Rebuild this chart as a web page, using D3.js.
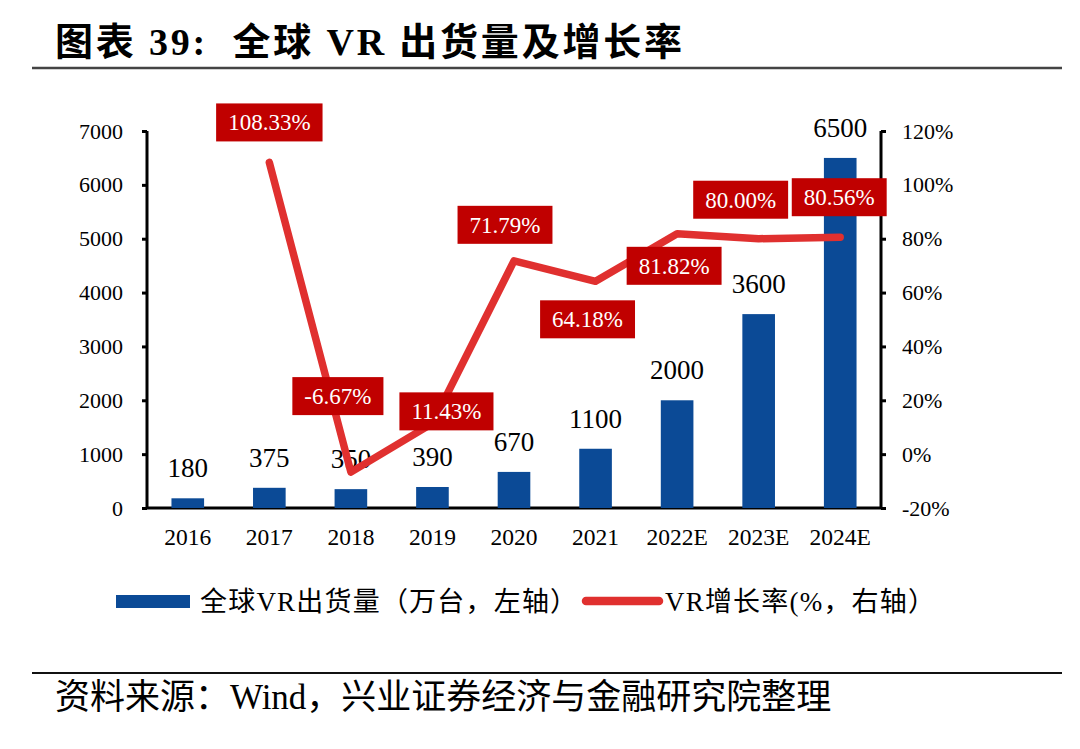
<!DOCTYPE html>
<html lang="zh">
<head>
<meta charset="UTF-8">
<title>全球VR出货量及增长率</title>
<script src="https://d3js.org/d3.v7.min.js"></script>
<style>
  body { margin: 0; background: #fff; }
</style>
</head>
<body>
<svg class="chart"></svg>
<script>
// data
const categories = ['2016', '2017', '2018', '2019', '2020', '2021', '2022E', '2023E', '2024E'];
const shipments = [180, 375, 350, 390, 670, 1100, 2000, 3600, 6500];          // 万台
const growth = [null, 108.33, -6.67, 11.43, 71.79, 64.18, 81.82, 80.00, 80.56]; // %
const leftTicks = [0, 1000, 2000, 3000, 4000, 5000, 6000, 7000];
const rightTicks = [-20, 0, 20, 40, 60, 80, 100, 120];

// where each growth label box sits relative to its point
const labelOffset = [null, [0, -40], [-13, -76], [14, -12], [-9, -36], [-8, 38], [-3, 32], [-18, -39], [-1, -40]];

const W = 1080, H = 749;
const plotL = 147, plotR = 881, plotT = 131, plotB = 508;
const blue = '#0b4a96', red = '#e0302f', boxRed = '#c00000';
const FONT = '"Liberation Serif", "Noto Sans CJK SC", serif';

const svg = d3.select('.chart').attr('width', W).attr('height', H)
  .attr('font-family', FONT);

// title + rules
svg.append('text')
  .attr('x', 55).attr('y', 55)
  .attr('font-size', 38).attr('font-weight', 'bold')
  .attr('letter-spacing', 2.8)
  .text('图表 39:\u00a0\u00a0全球 VR 出货量及增长率');
svg.append('line').attr('x1', 32).attr('x2', 1062).attr('y1', 68).attr('y2', 68)
  .attr('stroke', '#444').attr('stroke-width', 2.5);
svg.append('line').attr('x1', 32).attr('x2', 1062).attr('y1', 673).attr('y2', 673)
  .attr('stroke', '#111').attr('stroke-width', 2);
svg.append('text')
  .attr('x', 55).attr('y', 709)
  .attr('font-size', 35)
  .text('资料来源：Wind，兴业证券经济与金融研究院整理');

// scales
const x = d3.scaleBand().domain(categories).range([plotL, plotR])
  .paddingInner(0.6).paddingOuter(0.3);
const yL = d3.scaleLinear().domain([0, 7000]).range([plotB, plotT]);
const yR = d3.scaleLinear().domain([-20, 120]).range([plotB, plotT]);

// axes
const axL = svg.append('g').attr('transform', `translate(${plotL},0)`)
  .call(d3.axisLeft(yL).tickValues(leftTicks).tickSize(5).tickPadding(19).tickFormat(d3.format('d')));
const axR = svg.append('g').attr('transform', `translate(${plotR},0)`)
  .call(d3.axisRight(yR).tickValues(rightTicks).tickSize(5).tickPadding(16).tickFormat(d => d + '%'));
const axB = svg.append('g').attr('transform', `translate(0,${plotB})`)
  .call(d3.axisBottom(x).tickSize(0).tickPadding(20));

[axL, axR, axB].forEach(g => {
  g.attr('font-family', FONT);
  g.select('.domain').attr('stroke', '#000').attr('stroke-width', 3);
  g.selectAll('.tick line').attr('stroke', '#000').attr('stroke-width', 3);
  g.selectAll('.tick text').attr('font-size', 22).attr('fill', '#000');
});
axL.select('.domain').attr('d', `M0,${plotT}V${plotB}`);
axR.select('.domain').attr('d', `M0,${plotT}V${plotB}`);
axB.select('.domain').attr('d', `M${plotL},0H${plotR}`);
axB.selectAll('.tick text').attr('font-size', 23.5).attr('dy', '0.71em');

// bars
svg.append('g').selectAll('rect')
  .data(shipments)
  .enter()
  .append('rect')
  .attr('x', (d, i) => x(categories[i]))
  .attr('y', d => yL(d))
  .attr('width', x.bandwidth())
  .attr('height', d => yL(0) - yL(d))
  .attr('fill', blue);

svg.append('g').selectAll('text')
  .data(shipments)
  .enter()
  .append('text')
  .attr('x', (d, i) => x(categories[i]) + x.bandwidth() / 2)
  .attr('y', d => yL(d) - 21)
  .attr('text-anchor', 'middle')
  .attr('font-size', 27)
  .text(d => d);

// growth line
const pts = growth.map((v, i) => ({ v, i })).filter(d => d.v !== null);
const px = d => x(categories[d.i]) + x.bandwidth() / 2;
const py = d => yR(d.v);

svg.append('path')
  .datum(pts)
  .attr('d', d3.line().x(px).y(py))
  .attr('fill', 'none')
  .attr('stroke', red)
  .attr('stroke-width', 7.5)
  .attr('stroke-linecap', 'round')
  .attr('stroke-linejoin', 'round');

// growth labels
const lab = svg.append('g').selectAll('g')
  .data(pts)
  .enter()
  .append('g')
  .attr('transform', d => `translate(${px(d) + labelOffset[d.i][0]},${py(d) + labelOffset[d.i][1]})`);
lab.append('rect').attr('fill', boxRed);
lab.append('text')
  .attr('text-anchor', 'middle')
  .attr('dy', '0.34em')
  .attr('font-size', 23)
  .attr('fill', '#fff')
  .text(d => d.v.toFixed(2) + '%');
lab.each(function () {
  const g = d3.select(this);
  const w = g.select('text').node().getBBox().width + 24;
  g.select('rect').attr('x', -w / 2).attr('y', -19).attr('width', w).attr('height', 38);
});

// legend
svg.append('rect').attr('x', 116).attr('y', 595).attr('width', 74).attr('height', 13).attr('fill', blue);
svg.append('text').attr('x', 200).attr('y', 611).attr('font-size', 27).attr('letter-spacing', 1.2)
  .text('全球VR出货量（万台，左轴）');
svg.append('line').attr('x1', 586).attr('x2', 659).attr('y1', 601).attr('y2', 601)
  .attr('stroke', red).attr('stroke-width', 8.5).attr('stroke-linecap', 'round');
svg.append('text').attr('x', 665).attr('y', 611).attr('font-size', 27).attr('letter-spacing', 1.2)
  .text('VR增长率(%，右轴）');
</script>
</body>
</html>
